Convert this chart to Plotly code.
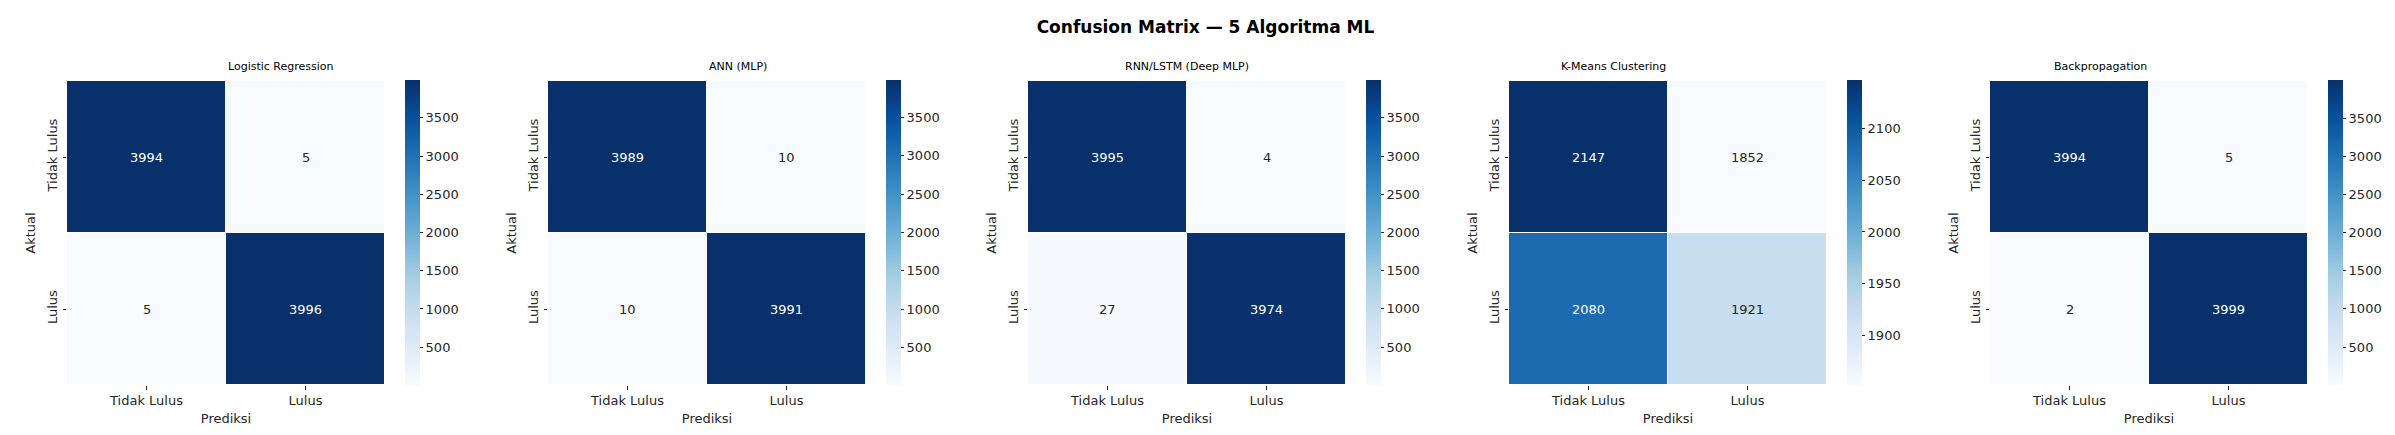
import numpy as np
import plotly.graph_objects as go
import plotly.express as px

# data
labels = ["Tidak Lulus", "Lulus"]
models = ["Logistic Regression", "ANN (MLP)", "RNN/LSTM (Deep MLP)", "K-Means Clustering", "Backpropagation"]

cm_logreg = [[3994, 5], [5, 3996]]
cm_ann = [[3989, 10], [10, 3991]]
cm_rnn = [[3995, 4], [27, 3974]]
cm_kmeans = [[2147, 1852], [2080, 1921]]
cm_backprop = [[3994, 5], [2, 3999]]

matrices = [cm_logreg, cm_ann, cm_rnn, cm_kmeans, cm_backprop]
cbar_dtick = [500, 500, 500, 50, 500]

W, H = 2395, 435
blues = px.colors.sequential.Blues  # same as matplotlib Blues


def hex_rgb(h):
    h = h.lstrip("#")
    return np.array([int(h[i:i + 2], 16) for i in (0, 2, 4)]) / 255.0


blues_rgb = np.array([hex_rgb(c) if c.startswith("#") else
                      np.array([float(v) for v in c[4:-1].split(",")]) / 255.0
                      for c in blues])


def text_color(v, lo, hi):
    # seaborn style: pick dark / white annotation by luminance of the cell
    t = (v - lo) / (hi - lo) if hi > lo else 0
    pos = np.linspace(0, 1, len(blues_rgb))
    rgb = np.array([np.interp(t, pos, blues_rgb[:, k]) for k in range(3)])
    rgb = np.where(rgb <= 0.03928, rgb / 12.92, ((rgb + 0.055) / 1.055) ** 2.4)
    lum = 0.2126 * rgb[0] + 0.7152 * rgb[1] + 0.0722 * rgb[2]
    return "#262626" if lum > 0.408 else "white"


fig = go.Figure()
font = "DejaVu Sans"

# pixel layout of each panel
hm_left = [59, 540, 1020, 1501, 1982]
hm_w = 318
cb_gap = 20
top, bottom = 73, 377
y0, y1 = 1 - bottom / H, 1 - top / H

for i, (name, cm) in enumerate(zip(models, matrices)):
    z = np.array(cm)
    lo, hi = z.min(), z.max()
    ax = "" if i == 0 else str(i + 1)
    x0 = hm_left[i] / W
    x1 = (hm_left[i] + hm_w) / W
    fig.add_trace(go.Heatmap(
        z=z, x=labels, y=labels,
        colorscale="Blues", zmin=lo, zmax=hi,
        xgap=1, ygap=1,
        xaxis="x" + ax, yaxis="y" + ax,
        hoverinfo="skip",
        colorbar=dict(
            x=(hm_left[i] + hm_w + cb_gap) / W, xanchor="left",
            y=y0, yanchor="bottom",
            len=bottom - top + 1, lenmode="pixels",
            thickness=15, thicknessmode="pixels",
            outlinewidth=0, ticks="outside", ticklen=3.5, tickcolor="#262626",
            dtick=cbar_dtick[i], tickfont=dict(size=13, color="#262626", family=font),
            xpad=0, ypad=0,
        ),
    ))
    fig.update_layout(**{
        "xaxis" + ax: dict(domain=[x0, x1], anchor="y" + ax, ticks="outside", ticklen=3.5,
                           tickcolor="#262626", showgrid=False, zeroline=False, showline=False,
                           tickfont=dict(size=13, color="#262626", family=font),
                           title=dict(text="Prediksi", standoff=6,
                                      font=dict(size=13, color="#262626", family=font))),
        "yaxis" + ax: dict(domain=[y0, y1], anchor="x" + ax, ticks="outside", ticklen=3.5,
                           tickcolor="#262626", showgrid=False, zeroline=False, showline=False,
                           autorange="reversed", tickangle=-90,
                           tickfont=dict(size=13, color="#262626", family=font),
                           title=dict(text="Aktual", standoff=6,
                                      font=dict(size=13, color="#262626", family=font))),
    })
    # cell values
    for r, yl in enumerate(labels):
        for c, xl in enumerate(labels):
            fig.add_annotation(x=xl, y=yl, xref="x" + ax, yref="y" + ax, text=str(z[r, c]),
                               showarrow=False,
                               font=dict(size=13, family=font, color=text_color(z[r, c], lo, hi)))
    # subplot title
    fig.add_annotation(x=(x0 + x1) / 2, y=y1, xref="paper", yref="paper", yanchor="bottom",
                       yshift=6, text=name, showarrow=False,
                       font=dict(size=11, family=font, color="black"))

fig.update_layout(
    width=W, height=H,
    margin=dict(l=0, r=0, t=0, b=0),
    paper_bgcolor="white", plot_bgcolor="white",
    font=dict(family=font),
    title=dict(text="<b>Confusion Matrix — 5 Algoritma ML</b>", x=0.5, xanchor="center",
               y=1 - 19 / H, yanchor="middle", font=dict(size=17, color="black", family=font)),
)

fig.write_html("out.html")
